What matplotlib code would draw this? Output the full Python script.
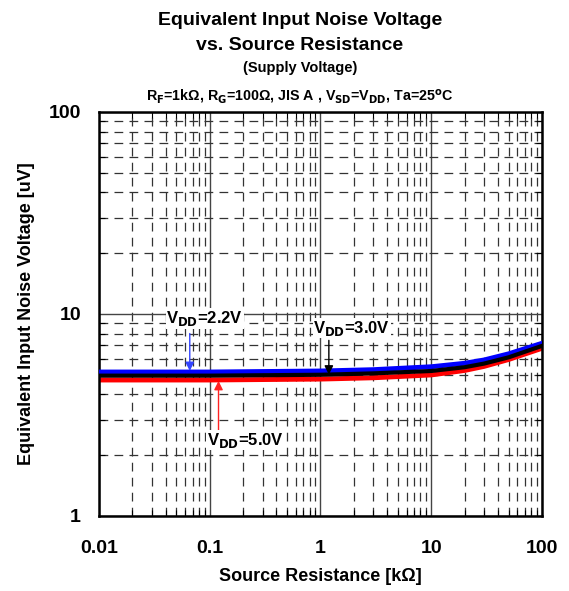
import numpy as np
import matplotlib.pyplot as plt
from matplotlib.ticker import LogLocator, NullFormatter, FixedLocator, FixedFormatter

plt.rcParams['font.family'] = ['Liberation Sans', 'DejaVu Sans']
plt.rcParams['font.weight'] = 'bold'
plt.rcParams['mathtext.default'] = 'bf'

# source resistance [kOhm]
rs = [0.01, 0.1, 1, 3, 10, 20, 30, 50, 100]
# equivalent input noise voltage [uV]
vn_22 = [5.16, 5.16, 5.22, 5.30, 5.48, 5.70, 5.92, 6.35, 7.16]
vn_30 = [4.95, 4.95, 5.00, 5.08, 5.22, 5.45, 5.68, 6.10, 6.95]
vn_50 = [4.71, 4.71, 4.76, 4.83, 4.99, 5.25, 5.50, 5.95, 6.76]

xticks = [0.01, 0.1, 1, 10, 100]
xtick_labels = ['0.01', '0.1', '1', '10', '100']
yticks = [1, 10, 100]
ytick_labels = ['1', '10', '100']

fig = plt.figure(figsize=(5.69, 5.91), dpi=100)
ax = fig.add_axes([0.174, 0.127, 0.7785, 0.6835])

ax.set_xscale('log')
ax.set_yscale('log')
ax.set_xlim(0.01, 100)
ax.set_ylim(1, 100)

# grid: solid majors, dashed minors
ax.grid(True, which='major', color='#444444', linewidth=1.0, linestyle='-')
ax.grid(True, which='minor', color='#333333', linewidth=0.9, linestyle=(0, (7, 5)))

ax.plot(rs, vn_22, color='#0000ff', linewidth=3.5, zorder=3)
ax.plot(rs, vn_30, color='black', linewidth=3.0, zorder=4)
ax.plot(rs, vn_50, color='#ff0000', linewidth=3.5, zorder=2)

ax.xaxis.set_major_locator(FixedLocator(xticks))
ax.xaxis.set_major_formatter(FixedFormatter(xtick_labels))
ax.yaxis.set_major_locator(FixedLocator(yticks))
ax.yaxis.set_major_formatter(FixedFormatter(ytick_labels))
ax.xaxis.set_minor_locator(LogLocator(base=10, subs=np.arange(2, 10)))
ax.yaxis.set_minor_locator(LogLocator(base=10, subs=np.arange(2, 10)))
ax.xaxis.set_minor_formatter(NullFormatter())
ax.yaxis.set_minor_formatter(NullFormatter())

ax.tick_params(which='both', direction='in', top=True, right=True, color='black')
ax.tick_params(which='major', length=0, labelsize=14)
ax.tick_params(axis='y', which='major', pad=13)
ax.tick_params(axis='x', which='major', pad=17)
ax.tick_params(which='minor', length=4, width=0.8)
for lbl in ax.get_xticklabels() + ax.get_yticklabels():
    lbl.set_fontweight('bold')

for sp in ax.spines.values():
    sp.set_linewidth(1.8)

ax.set_xlabel('Source Resistance [kΩ]', fontsize=13, fontweight='bold', labelpad=8)
ax.set_ylabel('Equivalent Input Noise Voltage [uV]', fontsize=13, fontweight='bold', labelpad=10)

# annotations: labels and vertical arrows
lab_kw = dict(ha='center', va='center', fontsize=12, fontweight='bold', zorder=5,
              bbox=dict(facecolor='white', edgecolor='none', pad=0.5))
ax.text(0.09, 9.5, 'V$_{DD}$=2.2V', **lab_kw)
ax.text(1.92, 8.5, 'V$_{DD}$=3.0V', **lab_kw)
ax.text(0.21, 2.37, 'V$_{DD}$=5.0V', **lab_kw)

arr = dict(arrowstyle='-|>', lw=1.0, mutation_scale=13, shrinkA=0, shrinkB=0)
ax.annotate('', xy=(0.066, 5.22), xytext=(0.066, 8.0),
            arrowprops=dict(arr, color='#3344ff'))
ax.annotate('', xy=(1.19, 5.01), xytext=(1.19, 7.4),
            arrowprops=dict(arr, color='black'))
ax.annotate('', xy=(0.12, 4.66), xytext=(0.12, 2.55),
            arrowprops=dict(arr, color='#ff2222'))

fig.text(0.527, 0.965, 'Equivalent Input Noise Voltage', ha='center', va='center',
         fontsize=14, fontweight='bold')
fig.text(0.527, 0.923, 'vs. Source Resistance', ha='center', va='center',
         fontsize=14, fontweight='bold')
fig.text(0.527, 0.885, '(Supply Voltage)', ha='center', va='center',
         fontsize=10.5, fontweight='bold')
fig.text(0.527, 0.836,
         'R$_{F}$=1kΩ, R$_{G}$=100Ω, JIS A , V$_{SD}$=V$_{DD}$, Ta=25$^{o}$C',
         ha='center', va='center', fontsize=10.3, fontweight='bold')

fig.savefig('out.png', dpi=100)
